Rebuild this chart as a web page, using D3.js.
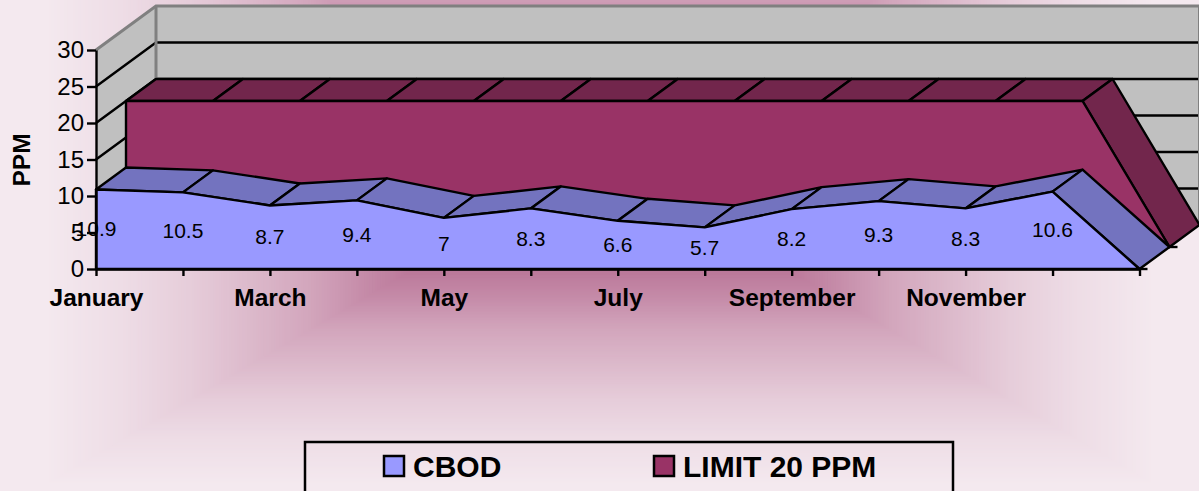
<!DOCTYPE html>
<html>
<head>
<meta charset="utf-8">
<script src="https://cdn.jsdelivr.net/npm/d3@7/dist/d3.min.js"></script>
<style>
html,body{margin:0;padding:0;background:#f4e9ef;overflow:hidden}
svg{display:block}
text{font-family:"Liberation Sans",Arial,sans-serif;fill:#000}
</style>
</head>
<body>
<svg id="c" width="1199" height="491"></svg>
<script>
const categories = ["January","February","March","April","May","June","July","August","September","October","November","December",""];
const shownLabels = ["January","March","May","July","September","November"];
const cbodValues = [10.9,10.5,8.7,9.4,7,8.3,6.6,5.7,8.2,9.3,8.3,10.6,0];
const limitValues = [20,20,20,20,20,20,20,20,20,20,20,20,0];
const seriesNames = ["CBOD","LIMIT 20 PPM"];
const yTicks = [0,5,10,15,20,25,30];

const svg = d3.select("#c");
const W = 1199, H = 491;

const x = d3.scalePoint().domain(categories).range([96,1139.5]);
const y = d3.scaleLinear().domain([0,30]).range([269,50]);
const dx = d3.scaleLinear().domain([0,2]).range([0,60]);
const dy = d3.scaleLinear().domain([0,2]).range([0,-44]);
const P = (cat,val,depth) => [x(cat)+dx(depth), y(val)+dy(depth)];
const line = d3.line();

// background: rectangular path gradient with measured falloff
const bgMix = d3.scaleLinear().domain([0,.37,.45,.55,.77,.9,1.05]).range([0,.39,.49,.63,.84,.93,1]);
const bgColor = t => d3.interpolateRgb("#993366","#f4e9ef")(bgMix(t));
const bgSteps = d3.range(1.05,0,-0.005);
const cx0 = 600, cy0 = 160, hw = 530, hh = 310;
svg.append("rect").attr("width",W).attr("height",H).attr("fill","#f4e9ef");
svg.append("g").selectAll("rect").data(bgSteps).join("rect")
  .attr("x",t=>cx0-hw*t).attr("y",t=>cy0-hh*t)
  .attr("width",t=>2*hw*t).attr("height",t=>2*hh*t)
  .attr("fill",t=>bgColor(t));

const first = categories[0], last = categories[categories.length-1];
const wallFill = "#c0c0c0", edge = "#808080";
const lw = 2.4;

// walls
svg.append("path").attr("fill",wallFill)
  .attr("d",line([P(first,0,0),P(first,30,0),P(first,30,2),P(last,30,2),P(last,0,2),P(first,0,2)])+"Z");

// gridlines
const grid = svg.append("g").attr("stroke","#000").attr("stroke-width",lw).attr("fill","none");
yTicks.filter(v=>v>0&&v<30).forEach(v=>{
  grid.append("path").attr("d",line([P(first,v,0),P(first,v,2),P(last,v,2)]));
});
// wall edges
svg.append("path").attr("fill","none").attr("stroke",edge).attr("stroke-width",3)
  .attr("d",line([P(first,30,0),P(first,30,2),P(last,30,2),P(last,0,2)]));
svg.append("path").attr("fill","none").attr("stroke",edge).attr("stroke-width",3)
  .attr("d",line([P(first,30,2),P(first,0,2)]));

// 3D area drawing
function drawArea(values, depth, front, top){
  const g = svg.append("g").attr("stroke","#000").attr("stroke-width",lw).attr("stroke-linejoin","round");
  categories.slice(0,-1).forEach((c,i)=>{
    const n = categories[i+1];
    g.append("path").attr("fill",top)
      .attr("d",line([P(c,values[i],depth),P(n,values[i+1],depth),P(n,values[i+1],depth+1),P(c,values[i],depth+1)])+"Z");
  });
  const pts = categories.map((c,i)=>P(c,values[i],depth));
  g.append("path").attr("fill",front)
    .attr("d",line([P(first,0,depth),...pts])+"Z");
}
drawArea(limitValues,1,"#993366","#72264c");
drawArea(cbodValues,0,"#9999ff","#7373bf");

// axes
const yAxis = d3.axisLeft(y).tickValues(yTicks).tickSize(9).tickPadding(3).tickSizeOuter(0);
const gy = svg.append("g").attr("transform",`translate(${x(first)},0)`).call(yAxis);
gy.selectAll("text").style("font-size","24px").attr("fill","#000");
gy.selectAll("line,path").attr("stroke","#000").attr("stroke-width",lw);

const xAxis = d3.axisBottom(x).tickSize(7).tickPadding(13).tickSizeOuter(0)
  .tickFormat(d=>shownLabels.includes(d)?d:"");
const gx = svg.append("g").attr("transform",`translate(0,${y(0)})`).call(xAxis);
gx.selectAll("text").style("font-size","24.5px").style("font-weight","bold").attr("fill","#000");
gx.selectAll("line,path").attr("stroke","#000").attr("stroke-width",lw);

// depth axis tick marks
const depthTicks = svg.append("g").attr("stroke","#000").attr("stroke-width",lw);
[0,1].forEach(d=>{
  const p = P(last,0,d);
  depthTicks.append("path").attr("d",line([p,[p[0]+8,p[1]]]));
});

// data labels
svg.append("g").selectAll("text").data(categories.slice(0,-1)).join("text")
  .attr("x",c=>x(c))
  .attr("y",(c,i)=>y(cbodValues[i]/2)-0.5)
  .attr("dy","0.36em").attr("text-anchor","middle")
  .style("font-size","21px")
  .text((c,i)=>String(cbodValues[i]));

// y title
svg.append("text").attr("transform","translate(30,160) rotate(-90)")
  .attr("text-anchor","middle")
  .style("font-size","24.5px").style("font-weight","bold").text("PPM");

// legend
const legendX = d3.scalePoint().domain(seriesNames).range([384,654]);
const legendColor = d3.scaleOrdinal().domain(seriesNames).range(["#9999ff","#993366"]);
svg.append("rect").attr("x",305).attr("y",442).attr("width",648).attr("height",70)
  .attr("fill","none").attr("stroke","#000").attr("stroke-width",2.5);
const lg = svg.append("g").selectAll("g").data(seriesNames).join("g")
  .attr("transform",d=>`translate(${legendX(d)},456)`);
lg.append("rect").attr("width",20).attr("height",20)
  .attr("fill",d=>legendColor(d)).attr("stroke","#000").attr("stroke-width",2.5);
lg.append("text").attr("x",29).attr("y",21)
  .style("font-size","30px").style("font-weight","bold").text(d=>d);
</script>
</body>
</html>
